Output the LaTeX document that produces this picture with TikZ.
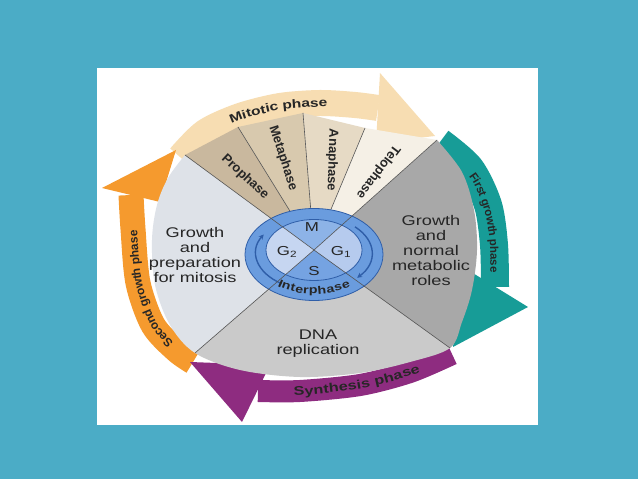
\documentclass[tikz,border=0pt]{standalone}
\usepackage{fontspec}
\setmainfont{Liberation Sans}
\newfontfamily\widefont[FakeStretch=1.3]{Liberation Sans}
\usepackage{xcolor}
\usepackage{tikz}
\usetikzlibrary{calc,arrows.meta,decorations.text}
\definecolor{bgblue}{HTML}{4BACC6}
\definecolor{mitofill}{HTML}{F7DDB2}
\definecolor{tealband}{HTML}{179C97}
\definecolor{purpleband}{HTML}{8E2C80}
\definecolor{orangeband}{HTML}{F59A2E}
\definecolor{gtwofill}{HTML}{DEE2E8}
\definecolor{sfill}{HTML}{CACACA}
\definecolor{gonefill}{HTML}{A8A8A8}
\definecolor{profill}{HTML}{C9B89E}
\definecolor{metafill}{HTML}{D8C9AE}
\definecolor{anafill}{HTML}{E6DAC5}
\definecolor{telofill}{HTML}{F5F0E6}
\definecolor{ringblue}{HTML}{6A9CDE}
\definecolor{ringedge}{HTML}{2F5EA8}
\definecolor{mblue}{HTML}{8DB3E7}
\definecolor{goneblue}{HTML}{B6CBEE}
\definecolor{gtwoblue}{HTML}{C6D6F1}
\definecolor{sblue}{HTML}{75A3E2}
\definecolor{linegray}{HTML}{555555}
\definecolor{txtgray}{HTML}{262626}

\begin{document}
\begin{tikzpicture}[x=1pt, y=1pt,
    sectortext/.style={font=\widefont\fontsize{14}{15}\selectfont, align=center, text=txtgray},
    wedgetext/.style={font=\bfseries\fontsize{13}{15}\selectfont, text=txtgray},
    coretext/.style={font=\widefont\fontsize{13}{15}\selectfont, text=txtgray},
    divider/.style={draw=linegray, line width=0.6pt},
    ringarrow/.style={ringedge, line width=1.4pt, -{Stealth[length=5pt,width=5pt]}},
    arclabel/.style={decorate, decoration={text along path, text align=center, raise=-4pt, text={#1}}}]

    % Background and card
    \fill[bgblue] (0,0) rectangle (638,479);
    \fill[white] (97,54) rectangle (538,411);

    % Corners of the wheel
    \coordinate (O) at (314,229);
    \coordinate (UL) at (185,324);
    \coordinate (W1) at (238,352);
    \coordinate (W2) at (303,366);
    \coordinate (W3) at (365,351);
    \coordinate (UR) at (437,339);
    \coordinate (LR) at (450,131);
    \coordinate (LL) at (195,126);
    \coordinate (ringc) at (314,226);

    % Mitotic phase arrow
    \draw[mitofill, line width=26pt] plot[smooth] coordinates {(180,322) (205,347) (240,363) (280,373) (320,376) (355,374) (378,371)};
    \fill[mitofill] (380,406) -- (435,343) -- (376,336) -- cycle;

    % First growth phase arrow
    \draw[tealband, line width=28pt] plot[smooth] coordinates {(440,337) (470,311) (488,274) (494,234) (495,192)};
    \fill[tealband] (463,212) -- (453,132) -- (528,172) -- cycle;

    % Second growth phase arrow
    \draw[orangeband, line width=25pt] plot[smooth] coordinates {(193,117) (176,129) (153,154) (138,196) (133,250) (131,284)};
    \fill[orangeband] (102,291) -- (176,329) -- (160,277) -- cycle;

    % Synthesis phase arrow
    \draw[purpleband, line width=22pt] plot[smooth] coordinates {(452,125) (410,107) (360,94) (300,88) (258,88)};
    \fill[purpleband] (270,114) -- (190,117) -- (242,57) -- cycle;

    % Sectors
    \begin{scope}
        \clip (UL) -- (W1) -- (W2) -- (W3) -- (UR) -- plot[smooth, tension=0.55] coordinates {(437,339) (462,307) (474,269) (477,229) (472,189) (462,157) (450,131) (410,117) (360,106) (300,102) (240,109) (195,126) (170,154) (155,194) (152,239) (157,274) (168,301) (185,324)} -- cycle;
        \fill[gtwofill] (O) -- ($(O)!3!(UL)$) -- ($(O)!3!(LL)$) -- cycle;
        \fill[sfill] (O) -- ($(O)!3!(LL)$) -- ($(O)!3!(LR)$) -- cycle;
        \fill[gonefill] (O) -- ($(O)!3!(LR)$) -- ($(O)!3!(UR)$) -- cycle;
        \fill[profill] (O) -- ($(O)!3!(UL)$) -- ($(O)!3!(W1)$) -- cycle;
        \fill[metafill] (O) -- ($(O)!3!(W1)$) -- ($(O)!3!(W2)$) -- cycle;
        \fill[anafill] (O) -- ($(O)!3!(W2)$) -- ($(O)!3!(W3)$) -- cycle;
        \fill[telofill] (O) -- ($(O)!3!(W3)$) -- ($(O)!3!(UR)$) -- cycle;
    \end{scope}
    \draw[divider] (O) -- (W1);
    \draw[divider] (O) -- (W2);
    \draw[divider] (O) -- (W3);

    % Inner cycle
    \fill[ringblue, draw=ringedge, line width=0.8pt] (314,224.5) ellipse [x radius=69, y radius=46];
    \begin{scope}
        \clip (O) ellipse [x radius=48, y radius=30.5];
        \fill[mblue] (O) -- ($(O)!3!(UL)$) -- ($(O)!3!(UR)$) -- cycle;
        \fill[goneblue] (O) -- ($(O)!3!(UR)$) -- ($(O)!3!(LR)$) -- cycle;
        \fill[sblue] (O) -- ($(O)!3!(LR)$) -- ($(O)!3!(LL)$) -- cycle;
        \fill[gtwoblue] (O) -- ($(O)!3!(LL)$) -- ($(O)!3!(UL)$) -- cycle;
    \end{scope}
    \draw[ringedge, line width=0.8pt] (O) ellipse [x radius=48, y radius=30.5];
    \draw[ringarrow] ($(ringc)+(236:58 and 37)$) arc[start angle=236, end angle=150, x radius=58, y radius=37];
    \draw[ringarrow] ($(ringc)+(45:58 and 37)$) arc[start angle=45, end angle=-42, x radius=58, y radius=37];

    % Phase borders
    \draw[divider] (O) -- (UL);
    \draw[divider] (O) -- (UR);
    \draw[divider] (O) -- (LL);
    \draw[divider] (O) -- (LR);

    % Sector labels
    \node[sectortext] (gtwo) at (195,224) {Growth\\and\\preparation\\for mitosis};
    \node[sectortext] (gone) at (431,229) {Growth\\and\\normal\\metabolic\\roles};
    \node[sectortext] (sphase) at (318,135) {DNA\\replication};

    % Mitosis stages
    \node[wedgetext, rotate=-43] (pro) at (245,302) {Prophase};
    \node[wedgetext, rotate=-72] (meta) at (283,321) {Metaphase};
    \node[wedgetext, rotate=-92] (ana) at (332,319) {Anaphase};
    \node[wedgetext, rotate=-127] (telo) at (378,307) {Telophase};

    % Core labels
    \node[coretext] (mlbl) at (312,252) {M};
    \node[coretext] (gtwolbl) at (287,227) {G\textsubscript{2}};
    \node[coretext] (gonelbl) at (341,227) {G\textsubscript{1}};
    \node[coretext] (slbl) at (314,208) {S};

    % Curved labels
    \path[arclabel={|\widefont\bfseries\fontsize{12}{14}\selectfont\color{txtgray}|Mitotic phase}] plot[smooth] coordinates {(205,347) (240,363) (280,373) (320,376) (355,374)};
    \path[arclabel={|\bfseries\fontsize{11.5}{14}\selectfont\color{txtgray}|First growth phase}] plot[smooth] coordinates {(462,318) (478,296) (489,266) (494,234) (494,190)};
    \path[arclabel={|\widefont\bfseries\fontsize{12.5}{14}\selectfont\color{txtgray}|Synthesis phase}] (263,87) .. controls (330,86) and (400,97) .. (447,124);
    \path[arclabel={|\bfseries\fontsize{12}{14}\selectfont\color{txtgray}|Second growth phase}] plot[smooth] coordinates {(188,121) (176,129) (153,154) (138,196) (133,250) (132,270)};
    \path[arclabel={|\widefont\bfseries\fontsize{11}{13}\selectfont\color{txtgray}|Interphase}] ($(ringc)+(218:58 and 37)$) arc[start angle=218, end angle=322, x radius=58, y radius=37];
\end{tikzpicture}
\end{document}
